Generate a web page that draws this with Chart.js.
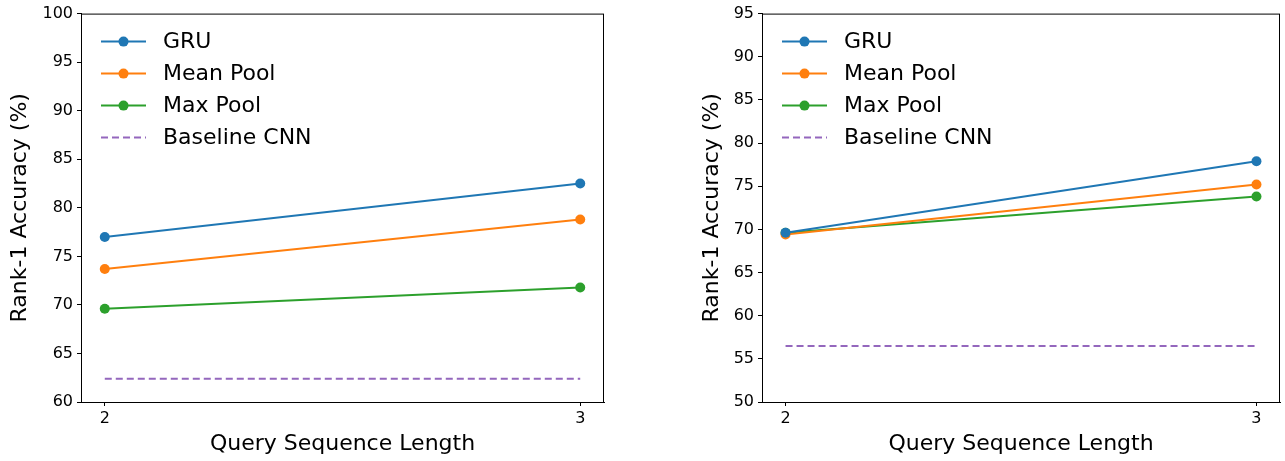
<!DOCTYPE html>
<html>
<head>
<meta charset="utf-8">
<script src="https://cdn.jsdelivr.net/npm/chart.js@4/dist/chart.umd.min.js"></script>
<style>
    body { margin: 0; background: #fff; width: 1285px; height: 461px; overflow: hidden; position: relative; }
    .box { position: absolute; top: 0; height: 461px; }
</style>
</head>
<body>
<div class="box" style="left:0;width:640px"><canvas id="leftChart"></canvas></div>
<div class="box" style="left:660px;width:625px"><canvas id="rightChart"></canvas></div>
<script>
// Data
const seqLengths = [2, 3];
const seriesNames = ["GRU", "Mean Pool", "Max Pool", "Baseline CNN"];
const seriesColors = ["#1f77b4", "#ff7f0e", "#2ca02c", "#9467bd"];

// left panel
const gruLeft = [77.0, 82.5];
const meanLeft = [73.7, 78.8];
const maxLeft = [69.6, 71.8];
const baseLeft = [62.4, 62.4];
const yTicksLeft = [60, 100];

// right panel
const gruRight = [69.6, 77.9];
const meanRight = [69.4, 75.2];
const maxRight = [69.6, 73.8];
const baseRight = [56.5, 56.5];
const yTicksRight = [50, 95];

const FONT = "'DejaVu Sans', sans-serif";

// Functions
// frame on all four sides + legend inside the plot
const framePlugin = {
    id: "frame",
    afterDraw(chart) {
        const ctx = chart.ctx;
        const a = chart.chartArea;
        ctx.save();
        ctx.strokeStyle = "#000";
        ctx.lineWidth = 1;
        ctx.strokeRect(a.left + 0.5, a.top + 0.5, a.right - a.left - 1, a.bottom - a.top);

        // legend
        ctx.font = "22px " + FONT;
        ctx.textBaseline = "middle";
        chart.data.datasets.forEach((ds, i) => {
            let y = a.top + 28 + i * 32;
            let x0 = a.left + 20;
            ctx.strokeStyle = ds.borderColor;
            ctx.lineWidth = 2;
            ctx.setLineDash(ds.borderDash || []);
            ctx.beginPath();
            ctx.moveTo(x0, y);
            ctx.lineTo(x0 + 45, y);
            ctx.stroke();
            ctx.setLineDash([]);
            if (ds.pointRadius > 0) {
                ctx.fillStyle = ds.borderColor;
                ctx.beginPath();
                ctx.arc(x0 + 22.5, y, 5, 0, Math.PI * 2);
                ctx.fill();
            }
            ctx.fillStyle = "#000";
            ctx.fillText(ds.label, x0 + 62, y + 1);
        });
        ctx.restore();
    }
};

function makeDatasets(gru, mean, max, base) {
    let values = [gru, mean, max];
    let sets = values.map((v, i) => ({
        label: seriesNames[i],
        data: seqLengths.map((x, j) => ({x: x, y: v[j]})),
        borderColor: seriesColors[i],
        backgroundColor: seriesColors[i],
        borderWidth: 2,
        pointRadius: 5,
        pointHoverRadius: 5,
        pointBorderWidth: 0
    }));
    sets.push({
        label: seriesNames[3],
        data: seqLengths.map((x, j) => ({x: x, y: base[j]})),
        borderColor: seriesColors[3],
        backgroundColor: seriesColors[3],
        borderWidth: 2,
        borderDash: [7, 4],
        pointRadius: 0
    });
    return sets;
}

function createLineChart(canvasID, datasets, yRange, pad, yWidth) {
    const ctx = document.getElementById(canvasID).getContext('2d');
    return new Chart(ctx, {
        type: "line",
        data: { datasets: datasets },
        options: {
            responsive: true,
            maintainAspectRatio: false,
            animation: false,
            layout: { padding: pad },
            plugins: { legend: { display: false }, tooltip: { enabled: false } },
            scales: {
                x: {
                    type: "linear",
                    min: 1.95,
                    max: 3.05,
                    afterBuildTicks: (scale) => { scale.ticks = seqLengths.map(v => ({value: v})); },
                    afterFit: (scale) => { scale.height = 59; },
                    grid: { drawOnChartArea: false, color: "#000", tickLength: 4 },
                    border: { color: "#000", width: 1 },
                    ticks: { color: "#000", font: { family: FONT, size: 16 }, padding: 3, maxRotation: 0 },
                    title: { display: true, text: "Query Sequence Length", color: "#000",
                             font: { family: FONT, size: 22 }, padding: { top: 0, bottom: 4 } }
                },
                y: {
                    min: yRange[0],
                    max: yRange[1],
                    afterFit: (scale) => { scale.width = yWidth; },
                    grid: { drawOnChartArea: false, color: "#000", tickLength: 4 },
                    border: { color: "#000", width: 1 },
                    ticks: { stepSize: 5, color: "#000", font: { family: FONT, size: 16 }, padding: 4 },
                    title: { display: true, text: "Rank-1 Accuracy (%)", color: "#000",
                             font: { family: FONT, size: 22 }, padding: { top: 0, bottom: 0 } }
                }
            }
        },
        plugins: [framePlugin]
    });
}

createLineChart("leftChart", makeDatasets(gruLeft, meanLeft, maxLeft, baseLeft), yTicksLeft,
    { left: 7, right: 36, top: 13, bottom: 0 }, 74);
createLineChart("rightChart", makeDatasets(gruRight, meanRight, maxRight, baseRight), yTicksRight,
    { left: 39, right: 1, top: 13, bottom: 0 }, 63);
</script>
</body>
</html>
